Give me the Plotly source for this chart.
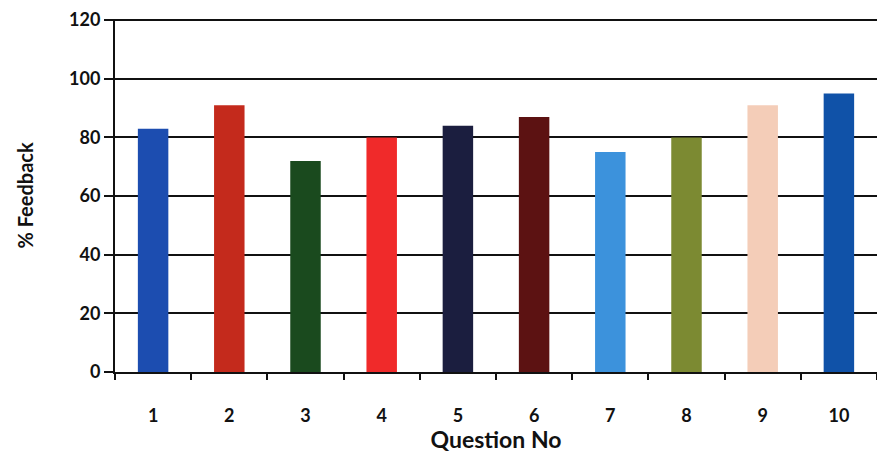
import plotly.graph_objects as go

questions = ["1", "2", "3", "4", "5", "6", "7", "8", "9", "10"]
feedback = [83, 91, 72, 80, 84, 87, 75, 80, 91, 95]
bar_colors = ["#1C4DB0", "#C42A1C", "#1A4A1E", "#F02A2A", "#1B1E3F",
              "#5C1212", "#3C92DC", "#7C8A32", "#F4CDB8", "#1052A8"]
y_ticks = [0, 20, 40, 60, 80, 100, 120]

fig = go.Figure(go.Bar(
    x=questions, y=feedback,
    marker=dict(color=bar_colors, line=dict(width=0)),
    width=0.4,
))

fig.update_layout(
    width=869, height=445,
    margin=dict(l=107, r=0, t=11, b=81, autoexpand=False),
    plot_bgcolor="white", paper_bgcolor="white",
    showlegend=False,
    font=dict(family="Lato, Open Sans, sans-serif", color="#111111"),
)
fig.update_yaxes(
    range=[0, 120.4], tickvals=y_ticks,
    showgrid=True, gridcolor="#111111", gridwidth=2,
    showline=True, linecolor="#111111", linewidth=2,
    ticks="outside", ticklen=9, tickwidth=2, tickcolor="#111111",
    tickfont=dict(size=18, family="Lato", weight="bold"),
    zeroline=False, automargin=False,
    title=dict(text="% Feedback", font=dict(size=20, family="Lato", weight="bold"), standoff=30),
)
fig.update_xaxes(
    showline=True, linecolor="#111111", linewidth=2,
    ticks="outside", ticklen=6, tickwidth=2, tickcolor="#111111",
    tickson="boundaries", automargin=False,
    ticklabelstandoff=26,
    tickfont=dict(size=18, family="Lato", weight="bold"),
    title=dict(text="Question No", font=dict(size=23, family="Lato", weight="bold"), standoff=0),
)

fig.write_html("out.html")
